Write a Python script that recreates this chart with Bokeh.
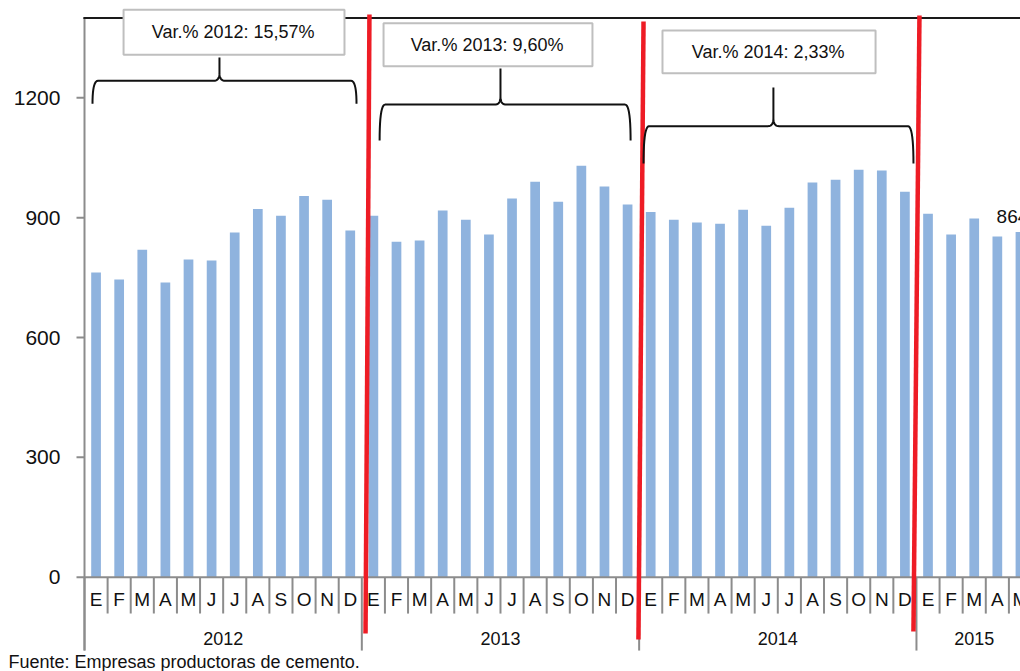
import numpy as np
from bokeh.plotting import figure
from bokeh.models import Range1d
from bokeh.core.properties import value
from bokeh.embed import file_html
from bokeh.resources import INLINE

# ---------------- data ----------------
month_letters = ["E", "F", "M", "A", "M", "J", "J", "A", "S", "O", "N", "D"]
years = ["2012", "2013", "2014", "2015"]
prod_2012 = [763, 745, 820, 738, 795, 793, 863, 922, 905, 954, 945, 868]
prod_2013 = [905, 840, 843, 918, 895, 858, 948, 990, 940, 1030, 978, 933]
prod_2014 = [914, 895, 888, 885, 920, 880, 925, 988, 995, 1020, 1018, 965]
prod_2015 = [910, 858, 898, 853, 864]
var_labels = ["Var.% 2012: 15,57%", "Var.% 2013: 9,60%", "Var.% 2014: 2,33%"]
y_ticks = [0, 300, 600, 900, 1200]
source_note = "Fuente: Empresas productoras de cemento."

series = [prod_2012, prod_2013, prod_2014, prod_2015]
values = np.concatenate([np.array(s, dtype=float) for s in series])
n_per_year = [len(s) for s in series]
N = len(values)
x_centers = np.arange(N) + 0.5
month_text = [month_letters[i] for n in n_per_year for i in range(n)]
year_starts = np.concatenate([[0], np.cumsum(n_per_year)[:-1]])
year_centers = year_starts + np.array(n_per_year) / 2.0

FONT = "Liberation Sans"
GRAY = "#8c8c8c"
RED = "#ee1c25"
BAR = "#8fb3de"
INK = "#111111"

# ---------------- figure (whole canvas is the frame; axes drawn by hand) ----------------
p = figure(width=1020, height=671,
           x_range=Range1d(-3.635, 40.502), y_range=Range1d(-236.0, 1443.6),
           x_axis_location=None, y_axis_location=None,
           toolbar_location=None, output_backend="svg",
           min_border_left=0, min_border_right=0, min_border_top=0, min_border_bottom=0,
           outline_line_color=None, background_fill_color="white", border_fill_color="white")
p.grid.visible = False

# bars
p.vbar(x=x_centers, top=values, width=0.42, fill_color=BAR, line_color=None)

# value axis: line, ticks, labels
AXIS_BOTTOM_MONTH = -91
AXIS_BOTTOM_YEAR = -183.6
TOP = 1400
p.segment(x0=[0], y0=[AXIS_BOTTOM_YEAR], x1=[0], y1=[TOP], line_color=GRAY, line_width=2)
p.segment(x0=np.full(len(y_ticks), -0.346), y0=y_ticks, x1=np.zeros(len(y_ticks)), y1=y_ticks,
          line_color=GRAY, line_width=2)
p.text(x=np.full(len(y_ticks), -1.04), y=y_ticks, text=[str(t) for t in y_ticks],
       text_font=value(FONT), text_font_size="21px", text_align="right",
       text_baseline="middle", text_color=INK)

# top border line
p.segment(x0=[-0.05], y0=[TOP], x1=[N + 1], y1=[TOP], line_color="#1a1a1a", line_width=2)

# category axis (two levels)
bounds = np.arange(N + 1)
is_year = np.isin(bounds, np.concatenate([year_starts, [N]]))
p.segment(x0=bounds, y0=np.zeros(N + 1), x1=bounds,
          y1=np.where(is_year, AXIS_BOTTOM_YEAR, AXIS_BOTTOM_MONTH),
          line_color=GRAY, line_width=2)
p.segment(x0=[0], y0=[0], x1=[N + 1], y1=[0], line_color=GRAY, line_width=2)

p.text(x=x_centers, y=np.full(N, -56.0), text=month_text, text_font=value(FONT),
       text_font_size="19px", text_align="center", text_baseline="middle", text_color=INK)
p.text(x=year_centers, y=np.full(len(years), -153.5), text=years, text_font=value(FONT),
       text_font_size="18px", text_align="center", text_baseline="middle", text_color=INK)

# data label on last bar
p.text(x=[x_centers[-1]], y=[values[-1]], text=[str(int(values[-1]))], text_font=value(FONT),
       text_font_size="19px", text_align="center", text_baseline="middle",
       x_offset=-8, y_offset=-15.5, text_color=INK)

# red year separators (slightly slanted, as drawn by hand)
red_top_x = [12.33, 24.19, 36.13]
red_top_y = [1408.5, 1391, 1406]
red_bot_x = [12.16, 23.97, 35.87]
red_bot_y = [-141, -156, -136]
p.segment(x0=red_top_x, y0=red_top_y, x1=red_bot_x, y1=red_bot_y, line_color=RED, line_width=4.5)

# curly braces
def qbez(p0, c, p1, n=12):
    t = np.linspace(0, 1, n)
    xs = (1 - t) ** 2 * p0[0] + 2 * (1 - t) * t * c[0] + t ** 2 * p1[0]
    ys = (1 - t) ** 2 * p0[1] + 2 * (1 - t) * t * c[1] + t ** 2 * p1[1]
    return list(xs), list(ys)

def brace(xl, xr, xc, yh, yend, ytop, dx=0.24, dyc=20):
    X, Y = [], []
    for seg in [qbez((xl, yend), (xl, yh), (xl + dx, yh)),
                ([xl + dx, xc - dx], [yh, yh]),
                qbez((xc - dx, yh), (xc, yh), (xc, yh + dyc)),
                ([xc, xc], [yh + dyc, ytop]),
                ([xc], [yh + dyc]),
                qbez((xc, yh + dyc), (xc, yh), (xc + dx, yh)),
                ([xc + dx, xr - dx], [yh, yh]),
                qbez((xr - dx, yh), (xr, yh), (xr, yend))]:
        X += list(seg[0]); Y += list(seg[1])
    return X, Y

brace_specs = [
    (0.346, 11.77, 5.84, 1242.7, 1185, 1300.9),
    (12.77, 23.63, 18.0, 1183, 1093, 1273.6),
    (24.19, 35.87, 29.81, 1129, 1035.5, 1225.8),
]
for spec in brace_specs:
    bx, by = brace(*spec)
    p.line(bx, by, line_color=INK, line_width=2)

# variation boxes
box_left = [1.69, 12.94, 25.01]
box_right = [11.25, 21.98, 34.23]
box_bottom = [1307.6, 1279, 1261.6]
box_top = [1420.3, 1386.7, 1368.5]
p.quad(left=box_left, right=box_right, bottom=box_bottom, top=box_top,
       fill_color="white", line_color="#bfbfbf", line_width=2)
p.text(x=[6.43, 17.42, 29.58], y=[1366, 1331, 1314], text=var_labels, text_font=value(FONT),
       text_font_size="18px", text_align="center", text_baseline="middle", text_color=INK)

# source note
p.text(x=[-3.29], y=[-211], text=[source_note], text_font=value(FONT), text_font_size="18px",
       text_align="left", text_baseline="middle", text_color=INK)

open("out.html", "w").write(file_html(p, INLINE))
